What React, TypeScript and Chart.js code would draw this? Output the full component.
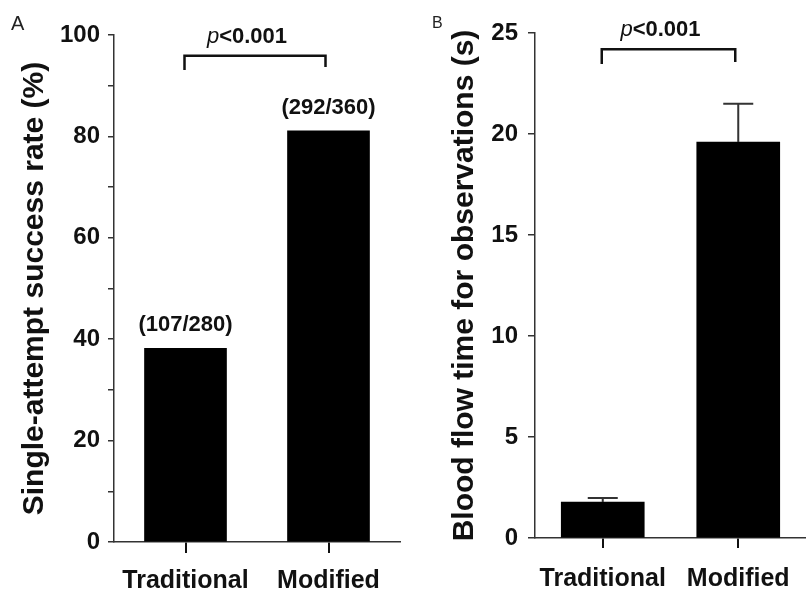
import React, { useEffect, useRef } from 'react';
import { Chart, registerables } from 'chart.js';

Chart.register(...registerables);

// ---- data ----
const categories = ['Traditional', 'Modified'];
const successRate = [38.2, 81.1];
const successCounts = ['(107/280)', '(292/360)'];
const flowTime = [1.78, 19.6];
const flowTimeSD = [0.2, 1.9];
const rateTickLabels = [0, 20, 40, 60, 80, 100];
const timeTickLabels = [0, 5, 10, 15, 20, 25];
const pValueItalic = 'p';
const pValueRest = '<0.001';

const FONT = '"Liberation Sans", Arial, Helvetica, sans-serif';
const INK = '#111';
const AXIS = '#333';

type AnnotOpts = {
  letter: string;
  letterSize: number;
  letterX: number;
  letterY: number;
  bracketTop: number;
  bracketLegs: [number, number];
  counts?: string[];
  errors?: number[];
};

function makeAnnotations(o: AnnotOpts) {
  return {
    id: 'annot' + o.letter,
    afterDraw(chart: any) {
      const ctx: CanvasRenderingContext2D = chart.ctx;
      const ys = chart.scales.y;
      const bars = chart.getDatasetMeta(0).data;
      ctx.save();

      // panel letter
      ctx.fillStyle = '#222';
      ctx.font = `${o.letterSize}px ${FONT}`;
      ctx.textAlign = 'left';
      ctx.textBaseline = 'alphabetic';
      ctx.fillText(o.letter, o.letterX, o.letterY);

      // error bars
      if (o.errors) {
        ctx.strokeStyle = AXIS;
        ctx.lineWidth = 2;
        bars.forEach((b: any, i: number) => {
          const v = chart.data.datasets[0].data[i] as number;
          const yt = ys.getPixelForValue(v + o.errors![i]);
          ctx.beginPath();
          ctx.moveTo(b.x, b.y);
          ctx.lineTo(b.x, yt);
          ctx.moveTo(b.x - 15, yt);
          ctx.lineTo(b.x + 15, yt);
          ctx.stroke();
        });
      }

      // count labels
      if (o.counts) {
        ctx.fillStyle = INK;
        ctx.font = `bold 22px ${FONT}`;
        ctx.textAlign = 'center';
        ctx.textBaseline = 'middle';
        bars.forEach((b: any, i: number) => {
          ctx.fillText(o.counts![i], b.x, b.y - 23);
        });
      }

      // significance bracket
      const x1 = bars[0].x - 1;
      const x2 = bars[1].x - 3;
      const yTop = ys.getPixelForValue(o.bracketTop);
      const yL = ys.getPixelForValue(o.bracketLegs[0]);
      const yR = ys.getPixelForValue(o.bracketLegs[1]);
      ctx.strokeStyle = INK;
      ctx.lineWidth = 2.5;
      ctx.lineCap = 'butt';
      ctx.beginPath();
      ctx.moveTo(x1, yL);
      ctx.lineTo(x1, yTop);
      ctx.lineTo(x2, yTop);
      ctx.lineTo(x2, yR);
      ctx.stroke();

      // p-value text
      const fItalic = `italic 22px ${FONT}`;
      const fBold = `bold 22px ${FONT}`;
      ctx.font = fItalic;
      const w1 = ctx.measureText(pValueItalic).width;
      ctx.font = fBold;
      const w2 = ctx.measureText(pValueRest).width;
      const cx = (x1 + x2) / 2 - 8;
      const ty = yTop - 19;
      const sx = cx - (w1 + w2) / 2;
      ctx.textAlign = 'left';
      ctx.textBaseline = 'middle';
      ctx.fillStyle = INK;
      ctx.font = fItalic;
      ctx.fillText(pValueItalic, sx, ty);
      ctx.font = fBold;
      ctx.fillText(pValueRest, sx + w1, ty);

      ctx.restore();
    },
  };
}

function baseX(tickPad: number, tickLen: number, height: number) {
  return {
    grid: {
      display: true,
      offset: false,
      drawOnChartArea: false,
      drawTicks: true,
      tickLength: tickLen,
      color: INK,
      lineWidth: 2,
    },
    border: { display: true, color: AXIS, width: 1.5 },
    ticks: {
      font: { family: FONT, size: 25, weight: 'bold' },
      color: INK,
      padding: tickPad,
      maxRotation: 0,
      autoSkip: false,
    },
    afterFit: (s: any) => {
      s.height = height;
    },
  };
}

function PanelA() {
  const ref = useRef<HTMLCanvasElement>(null);
  useEffect(() => {
    const chart = new Chart(ref.current!, {
      type: 'bar',
      data: {
        labels: categories,
        datasets: [
          { data: successRate, backgroundColor: '#000', borderWidth: 0, barThickness: 82 },
        ],
      },
      options: {
        responsive: false,
        animation: false,
        layout: { padding: { left: 0, right: 3, top: 35, bottom: 0 } },
        plugins: { legend: { display: false }, tooltip: { enabled: false } },
        scales: {
          x: baseX(13, 11, 48) as any,
          y: {
            min: 0,
            max: 100,
            ticks: {
              stepSize: 10,
              callback: (v: any) => (rateTickLabels.includes(v) ? String(v) : ''),
              font: { family: FONT, size: 24, weight: 'bold' },
              color: INK,
              padding: 8,
            },
            grid: { drawOnChartArea: false, drawTicks: true, tickLength: 6, color: AXIS, lineWidth: 1.5 },
            border: { display: true, color: AXIS, width: 1.5 },
            title: {
              display: true,
              text: 'Single-attempt success rate (%)',
              font: { family: FONT, size: 30, weight: 'bold' },
              color: INK,
              padding: { top: 17, bottom: 0 },
            },
            afterFit: (s: any) => {
              s.width = 114;
            },
          } as any,
        },
      },
      plugins: [
        makeAnnotations({
          letter: 'A',
          letterSize: 20,
          letterX: 11,
          letterY: 30,
          bracketTop: 95.9,
          bracketLegs: [93.1, 93.7],
          counts: successCounts,
        }),
      ],
    });
    return () => chart.destroy();
  }, []);
  return (
    <canvas
      ref={ref}
      width={403}
      height={590}
      style={{ position: 'absolute', left: 0, top: 0, width: 403, height: 590 }}
    />
  );
}

function PanelB() {
  const ref = useRef<HTMLCanvasElement>(null);
  useEffect(() => {
    const chart = new Chart(ref.current!, {
      type: 'bar',
      data: {
        labels: categories,
        datasets: [
          { data: flowTime, backgroundColor: '#000', borderWidth: 0, barThickness: 83 },
        ],
      },
      options: {
        responsive: false,
        animation: false,
        layout: { padding: { left: 0, right: 0, top: 33, bottom: 0 } },
        plugins: { legend: { display: false }, tooltip: { enabled: false } },
        scales: {
          x: baseX(16, 10, 52) as any,
          y: {
            min: 0,
            max: 25,
            ticks: {
              stepSize: 5,
              callback: (v: any) => (timeTickLabels.includes(v) ? String(v) : ''),
              font: { family: FONT, size: 24, weight: 'bold' },
              color: INK,
              padding: 10,
            },
            grid: { drawOnChartArea: false, drawTicks: true, tickLength: 7, color: AXIS, lineWidth: 1.5 },
            border: { display: true, color: AXIS, width: 1.5 },
            title: {
              display: true,
              text: 'Blood flow time for observations (s)',
              font: { family: FONT, size: 30, weight: 'bold' },
              color: INK,
              padding: { top: 44, bottom: 0 },
            },
            afterFit: (s: any) => {
              s.width = 132;
            },
          } as any,
        },
      },
      plugins: [
        makeAnnotations({
          letter: 'B',
          letterSize: 16,
          letterX: 29,
          letterY: 28,
          bracketTop: 24.2,
          bracketLegs: [23.47, 23.56],
          errors: flowTimeSD,
        }),
      ],
    });
    return () => chart.destroy();
  }, []);
  return (
    <canvas
      ref={ref}
      width={403}
      height={590}
      style={{ position: 'absolute', left: 403, top: 0, width: 403, height: 590 }}
    />
  );
}

export default function App() {
  return (
    <div
      style={{
        position: 'absolute',
        left: 0,
        top: 0,
        width: 806,
        height: 590,
        background: '#fff',
        overflow: 'hidden',
      }}
    >
      <PanelA />
      <PanelB />
    </div>
  );
}
